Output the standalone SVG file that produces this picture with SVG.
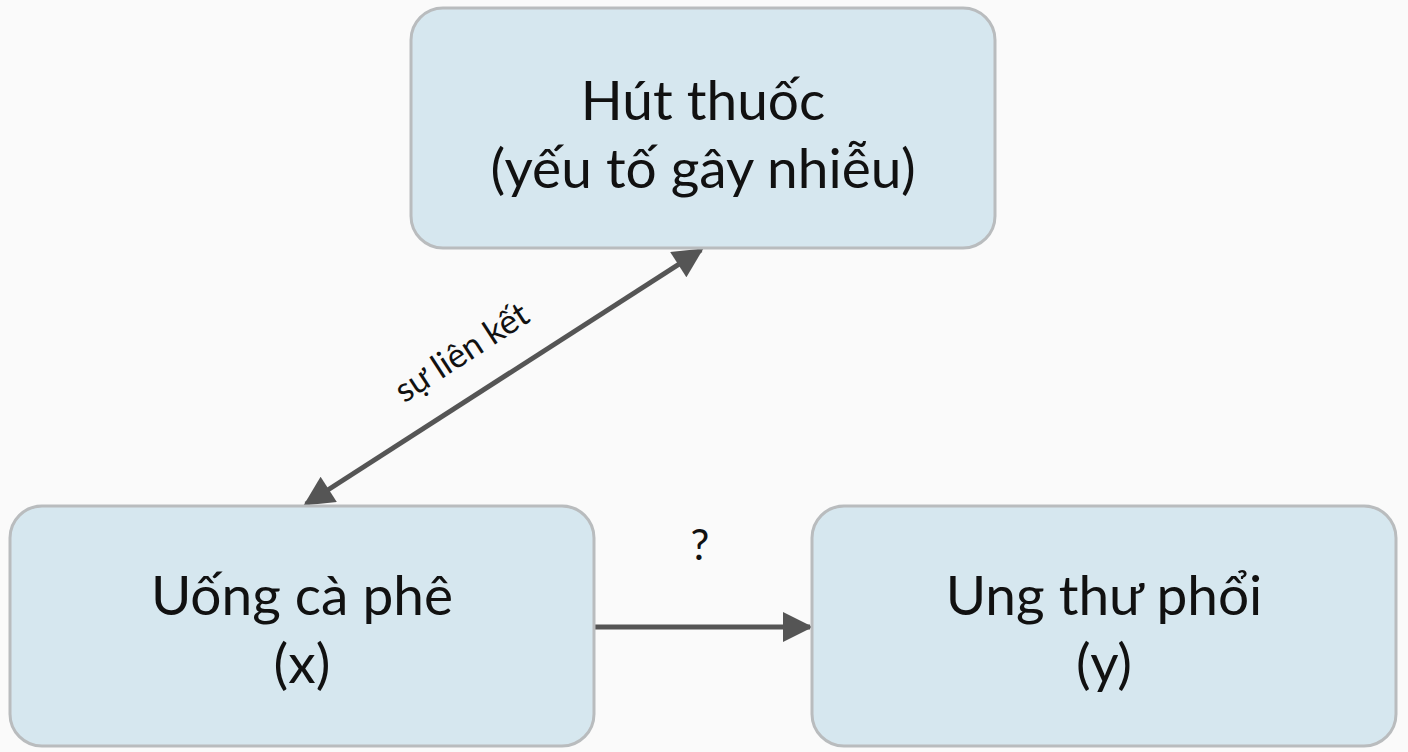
<svg xmlns="http://www.w3.org/2000/svg" width="1408" height="752" viewBox="0 0 1408 752">
<style>
.box{fill:#d6e7ef;stroke:#b9bcbe;stroke-width:3}
.t{font-family:Lato,"Noto Sans",sans-serif;font-size:55px;fill:#111;text-anchor:middle}
.l{font-family:Lato,"Noto Sans",sans-serif;fill:#111;text-anchor:middle}
.c{stroke:#555;stroke-width:5;fill:none}
</style>
<defs>
<marker id="a" viewBox="0 0 10 10" refX="9" refY="5" markerWidth="38" markerHeight="30" markerUnits="userSpaceOnUse" orient="auto-start-reverse">
<path d="M0,0 L10,5 L0,10 z" fill="#555"/>
</marker>
</defs>
<rect width="1408" height="752" fill="#fafafa"/>
<g id="connectors">
<line class="c" x1="306" y1="504" x2="701" y2="250" marker-start="url(#a)" marker-end="url(#a)"/>
<line class="c" x1="595" y1="627" x2="810" y2="627" marker-end="url(#a)"/>
<text class="l" font-size="34" transform="translate(468,362) rotate(-33)">sự liên kết</text>
<text class="l" font-size="42" x="700" y="560">?</text>
</g>
<g id="smoking">
<rect class="box" x="411" y="8" width="584" height="240" rx="32"/>
<text class="t" x="703" y="120">Hút thuốc</text>
<text class="t" x="703" y="188">(yếu tố gây nhiễu)</text>
</g>
<g id="coffee">
<rect class="box" x="10" y="506" width="584" height="240" rx="32"/>
<text class="t" x="302" y="615">Uống cà phê</text>
<text class="t" x="302" y="683">(x)</text>
</g>
<g id="cancer">
<rect class="box" x="812" y="506" width="584" height="240" rx="32"/>
<text class="t" x="1104" y="615">Ung thư phổi</text>
<text class="t" x="1104" y="683">(y)</text>
</g>
</svg>
